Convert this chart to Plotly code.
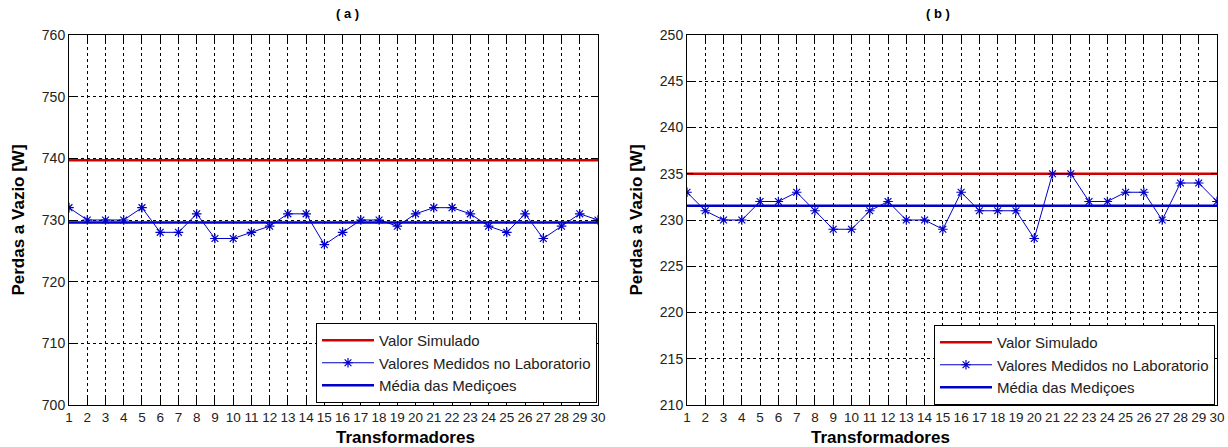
import plotly.graph_objects as go

transformadores = list(range(1, 31))

# Panel (a)
medidos_a = [732, 730, 730, 730, 732, 728, 728, 731, 727, 727,
             728, 729, 731, 731, 726, 728, 730, 730, 729, 731,
             732, 732, 731, 729, 728, 731, 727, 729, 731, 730]
simulado_a = 739.7
media_a = sum(medidos_a) / len(medidos_a)

# Panel (b)
medidos_b = [233, 231, 230, 230, 232, 232, 233, 231, 229, 229,
             231, 232, 230, 230, 229, 233, 231, 231, 231, 228,
             235, 235, 232, 232, 233, 233, 230, 234, 234, 232]
simulado_b = 235.0
media_b = sum(medidos_b) / len(medidos_b)

yticks_a = [700, 710, 720, 730, 740, 750, 760]
yticks_b = [210, 215, 220, 225, 230, 235, 240, 245, 250]

names = ["Valor Simulado", "Valores Medidos no Laboratorio", "Média das Mediçoes"]

RED = "#d00000"
BLUE = "#0000c8"
FONT = "Liberation Sans, Arial, sans-serif"

fig = go.Figure()

def add_panel(xa, ya, leg, medidos, sim, media):
    fig.add_trace(go.Scatter(x=[transformadores[0], transformadores[-1]], y=[sim, sim],
                             mode="lines", line=dict(color=RED, width=2.5),
                             name=names[0], xaxis=xa, yaxis=ya, legend=leg))
    fig.add_trace(go.Scatter(x=transformadores, y=medidos, mode="lines+markers",
                             line=dict(color=BLUE, width=1),
                             marker=dict(symbol="asterisk-open", size=8,
                                         line=dict(color=BLUE, width=1.2), color=BLUE),
                             name=names[1], xaxis=xa, yaxis=ya, legend=leg))
    fig.add_trace(go.Scatter(x=[transformadores[0], transformadores[-1]], y=[media, media],
                             mode="lines", line=dict(color=BLUE, width=2.5),
                             name=names[2], xaxis=xa, yaxis=ya, legend=leg))

add_panel("x", "y", "legend", medidos_a, simulado_a, media_a)
add_panel("x2", "y2", "legend2", medidos_b, simulado_b, media_b)

W, H = 1228, 447
BOT = 405                # bottom of the axes in pixels
MB = H - BOT
PH = H - MB

ax_common = dict(showline=True, linecolor="black", linewidth=1, mirror="ticks",
                 ticks="inside", ticklen=6, tickcolor="black",
                 showgrid=True, gridcolor="black", gridwidth=1, griddash="3px,3px",
                 zeroline=False, automargin=False, ticklabeloverflow="allow",
                 tickfont=dict(family=FONT, size=14, color="#222"))

def xdom(l, r):
    return [l / W, r / W]

def ydom(t, b):
    return [1 - b / PH, 1 - t / PH]

def xp(rx):
    return rx / W

def yp(ry):
    return 1 - ry / PH

xaxis_kw = dict(ax_common, range=[1, 30], tickvals=transformadores, ticktext=[str(t) for t in transformadores],
                ticklen=8, tickangle=0, tickfont=dict(family=FONT, size=13.5, color="#222"))

ytitle = dict(text="<b>Perdas a Vazio [W]</b>", font=dict(family=FONT, size=17, color="black"), standoff=12)

leg_common = dict(xanchor="right", yanchor="top", bordercolor="black", borderwidth=1, bgcolor="white",
                  font=dict(family=FONT, size=15, color="#222"), tracegroupgap=0, itemwidth=52)

xtitle_font = dict(family=FONT, size=17, color="black")

fig.update_layout(
    width=W, height=H,
    margin=dict(l=0, r=0, t=0, b=MB, autoexpand=False),
    paper_bgcolor="white", plot_bgcolor="white",
    font=dict(family=FONT, color="black"),
    xaxis=dict(xaxis_kw, domain=xdom(69, 598), anchor="y"),
    xaxis2=dict(xaxis_kw, domain=xdom(687, 1217), anchor="y2"),
    yaxis=dict(ax_common, domain=ydom(35, 405), range=[700, 760], tickvals=yticks_a, anchor="x", title=ytitle),
    yaxis2=dict(ax_common, domain=ydom(35, 405), range=[210, 250], tickvals=yticks_b, anchor="x2", title=ytitle),
    legend=dict(leg_common, x=xp(597), y=yp(323)),
    legend2=dict(leg_common, x=xp(1215), y=yp(325)),
    showlegend=True,
    annotations=[
        dict(text="<b>( a )</b>", x=xp((69 + 598) / 2), y=yp(13), xref="paper", yref="paper",
             yanchor="middle", showarrow=False, font=dict(family=FONT, size=13, color="black")),
        dict(text="<b>( b )</b>", x=xp((687 + 1217) / 2), y=yp(13), xref="paper", yref="paper",
             yanchor="middle", showarrow=False, font=dict(family=FONT, size=13, color="black")),
        dict(text="<b>Transformadores</b>", x=xp((69 + 598) / 2), y=yp(437), xref="paper", yref="paper",
             yanchor="middle", showarrow=False, font=xtitle_font),
        dict(text="<b>Transformadores</b>", x=xp((687 + 1217) / 2), y=yp(437), xref="paper", yref="paper",
             yanchor="middle", showarrow=False, font=xtitle_font),
    ],
)

# remove the default 8px page margin so the 1228x447 figure fills the window exactly
fig.write_html("out.html", config={"displayModeBar": False},
               post_script="document.body.style.margin='0px';")
